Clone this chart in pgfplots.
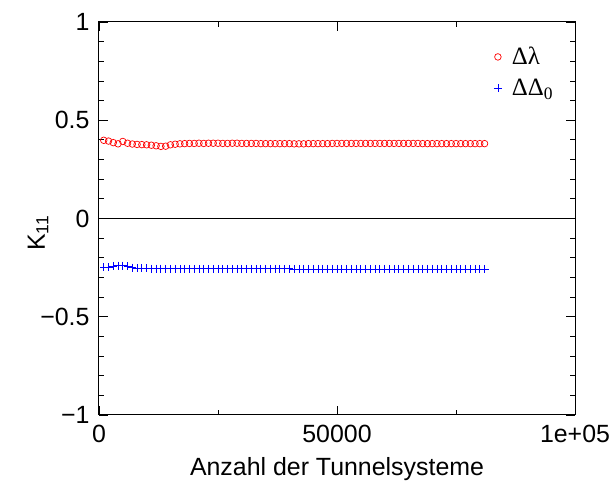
\documentclass[border=0pt]{standalone}
\usepackage{fontspec}
\setmainfont{Liberation Sans}
\newfontfamily\grk{Liberation Serif}
\usepackage{pgfplots}
\pgfplotsset{compat=1.18}
\usepackage{pgfplotstable}

\pgfplotstableread{
x y
1000 0.398
2000 0.394
3000 0.386
4000 0.380
5000 0.392
6000 0.383
7000 0.379
8000 0.377
9000 0.376
10000 0.375
11000 0.373
12000 0.370
13000 0.367
14000 0.368
15000 0.375
16000 0.378
17000 0.380
18000 0.381
19000 0.382
20000 0.382
21000 0.383
22000 0.382
23000 0.383
24000 0.383
25000 0.383
26000 0.382
27000 0.382
28000 0.383
29000 0.383
30000 0.382
31000 0.382
32000 0.382
33000 0.382
34000 0.381
35000 0.381
36000 0.381
37000 0.381
38000 0.381
39000 0.381
40000 0.381
41000 0.380
42000 0.380
43000 0.380
44000 0.381
45000 0.381
46000 0.381
47000 0.381
48000 0.381
49000 0.382
50000 0.382
51000 0.382
52000 0.382
53000 0.382
54000 0.382
55000 0.382
56000 0.382
57000 0.382
58000 0.382
59000 0.382
60000 0.382
61000 0.382
62000 0.382
63000 0.382
64000 0.382
65000 0.382
66000 0.382
67000 0.382
68000 0.381
69000 0.381
70000 0.381
71000 0.381
72000 0.381
73000 0.381
74000 0.381
75000 0.381
76000 0.381
77000 0.381
78000 0.381
79000 0.381
80000 0.381
81000 0.381
}\lamdata

\pgfplotstableread{
x y
1000 -0.247
2000 -0.247
3000 -0.244
4000 -0.240
5000 -0.240
6000 -0.244
7000 -0.250
8000 -0.252
9000 -0.253
10000 -0.254
11000 -0.255
12000 -0.255
13000 -0.255
14000 -0.256
15000 -0.256
16000 -0.256
17000 -0.256
18000 -0.256
19000 -0.256
20000 -0.256
21000 -0.256
22000 -0.256
23000 -0.256
24000 -0.256
25000 -0.256
26000 -0.256
27000 -0.256
28000 -0.256
29000 -0.256
30000 -0.256
31000 -0.256
32000 -0.256
33000 -0.256
34000 -0.256
35000 -0.256
36000 -0.256
37000 -0.256
38000 -0.256
39000 -0.256
40000 -0.256
41000 -0.257
42000 -0.257
43000 -0.257
44000 -0.257
45000 -0.257
46000 -0.257
47000 -0.257
48000 -0.257
49000 -0.257
50000 -0.257
51000 -0.257
52000 -0.257
53000 -0.257
54000 -0.257
55000 -0.257
56000 -0.257
57000 -0.257
58000 -0.257
59000 -0.257
60000 -0.257
61000 -0.257
62000 -0.257
63000 -0.257
64000 -0.257
65000 -0.257
66000 -0.257
67000 -0.257
68000 -0.257
69000 -0.257
70000 -0.257
71000 -0.257
72000 -0.257
73000 -0.257
74000 -0.257
75000 -0.257
76000 -0.257
77000 -0.257
78000 -0.257
79000 -0.257
80000 -0.257
81000 -0.257
}\deldata

\begin{document}
\begin{tikzpicture}
\useasboundingbox (-99bp,-70bp) rectangle (513bp,415bp);
\begin{axis}[
  at={(0,0)}, anchor=south west,
  scale only axis, width=476bp, height=393bp,
  xmin=0, xmax=100000, ymin=-1, ymax=1,
  scaled ticks=false,
  xtick={0,50000,100000}, xticklabels={0,50000,1e+05},
  minor x tick num=1,
  ytick={-1,-0.5,0,0.5,1}, yticklabels={−1,−0.5,0,0.5,1},
  minor y tick num=4,
  tick align=inside,
  major tick length=9bp, minor tick length=5bp,
  tick style={black, line width=0.8bp},
  axis line style={line width=1bp},
  font=\fontsize{25}{30}\selectfont,
  xticklabel style={yshift=-7bp},
  yticklabel style={xshift=-6bp},
  xlabel={Anzahl der Tunnelsysteme},
  ylabel={K\textsubscript{11}},
  xlabel style={at={(axis description cs:0.5,-0.155)}, anchor=base},
  ylabel style={at={(axis description cs:-0.128,0.463)}, anchor=center},
  legend style={draw=none, fill=none, at={(axis description cs:0.965,0.946)}, anchor=north east,
    font=\grk\fontsize{25}{30}\selectfont, row sep=9bp, nodes={inner sep=2bp},
    /tikz/every odd column/.append style={column sep=8bp}},
  legend cell align=left,
]
\draw[black, line width=0.8bp] (axis cs:0,0) -- (axis cs:100000,0);
\addplot[only marks, red, mark=o, mark size=3.3bp, line width=0.7bp] table {\lamdata};
\addlegendentry{Δλ}
\addplot[only marks, blue, mark=+, mark size=4bp, line width=0.8bp] table {\deldata};
\addlegendentry{ΔΔ\textsubscript{0}}
\end{axis}
\end{tikzpicture}
\end{document}
